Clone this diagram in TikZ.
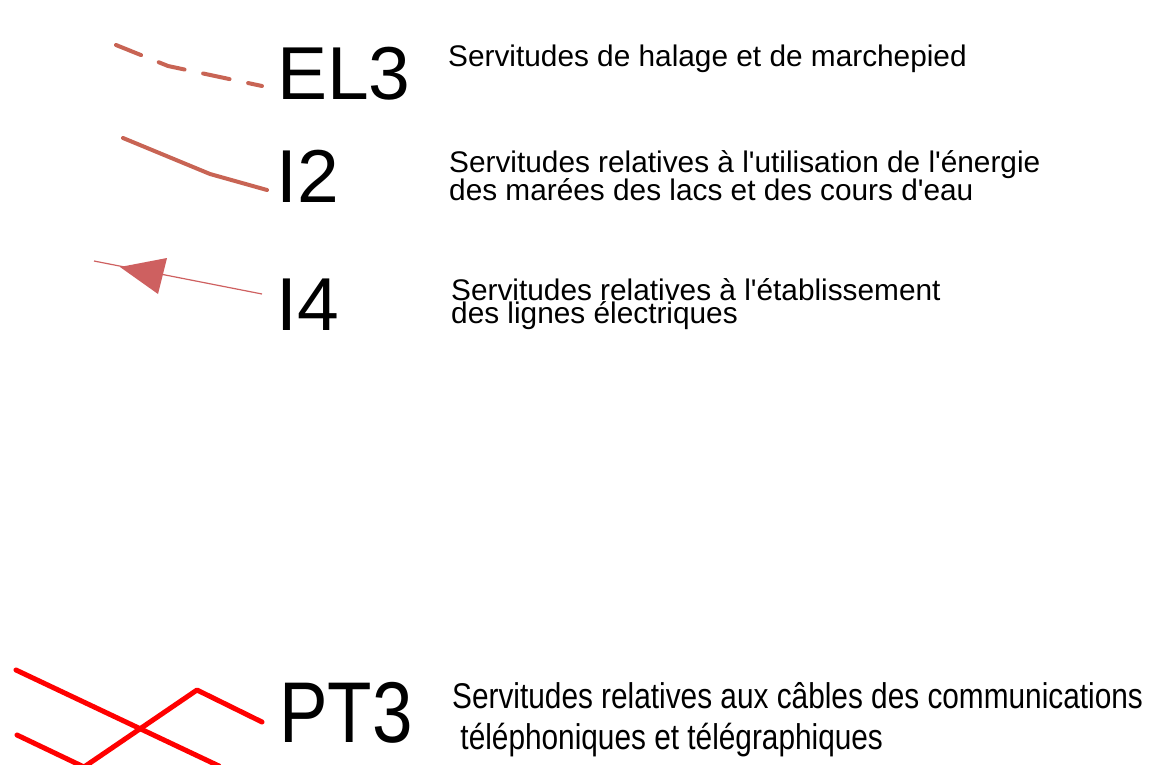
\documentclass[tikz,border=0pt]{standalone}
\usepackage{fontspec}
\setmainfont{Liberation Sans}
\definecolor{brownred}{RGB}{200,100,84}
\definecolor{arrowred}{RGB}{206,96,96}
\definecolor{purered}{RGB}{255,0,0}
\newcommand{\apos}{\textquotesingle}
\begin{document}
\begin{tikzpicture}[x=1pt,y=-1pt,
  code/.style={anchor=base west,inner sep=0pt,font=\fontsize{75}{75}\selectfont},
  desc/.style={anchor=base west,inner sep=0pt,font=\fontsize{29.8}{30}\selectfont},
  sym/.style={line cap=round,line join=round}]
\useasboundingbox (0,0) rectangle (1151,765);
% EL3
\coordinate (e1) at (116,45);
\coordinate (e2) at (168,66);
\coordinate (e3) at (262,86);
\draw[sym,brownred,line width=4pt,dash pattern=on 27pt off 19pt] (e1) -- (e2) -- (e3);
\node[code] (el3) at (277,100) {EL3};
\node[desc] (el3t) at (448,67) {Servitudes de halage et de marchepied};
% I2
\coordinate (i1) at (123,138);
\coordinate (i2) at (210,174);
\coordinate (i3) at (267,190);
\draw[sym,brownred,line width=4pt] (i1) -- (i2) -- (i3);
\node[code] (i2l) at (276,202) {I2};
\node[desc] (i2t1) at (449,172) {Servitudes relatives à l\apos utilisation de l\apos énergie};
\node[desc] (i2t2) at (449,200) {des marées des lacs et des cours d\apos eau};
% I4
\coordinate (a1) at (94,261);
\coordinate (a2) at (262,294);
\coordinate (tip) at (120,267);
\coordinate (b1) at (167,258);
\coordinate (b2) at (158,294);
\draw[arrowred,line width=1.2pt] (a1) -- (a2);
\fill[arrowred] (tip) -- (b1) -- (b2) -- cycle;
\node[code] (i4l) at (276,330) {I4};
\node[desc] (i4t1) at (451,300) {Servitudes relatives à l\apos établissement};
\node[desc] (i4t2) at (451,323) {des lignes électriques};
% PT3
\coordinate (p1) at (16,670);
\coordinate (p2) at (219,766);
\coordinate (q1) at (17,735);
\coordinate (q2) at (84,767);
\coordinate (q3) at (197,690);
\coordinate (q4) at (262,722);
\draw[sym,purered,line width=5pt] (p1) -- (p2);
\draw[sym,purered,line width=5pt] (q1) -- (q2) -- (q3) -- (q4);
\node[code] (pt3) at (279,742) {\scalebox{0.97}[1.15]{PT3}};
\node[desc] (pt3t1) at (452,708) {\scalebox{1}[1.2]{Servitudes relatives aux câbles des communications}};
\node[desc] (pt3t2) at (452,749) {\scalebox{1}[1.2]{\ téléphoniques et télégraphiques}};
\end{tikzpicture}
\end{document}
